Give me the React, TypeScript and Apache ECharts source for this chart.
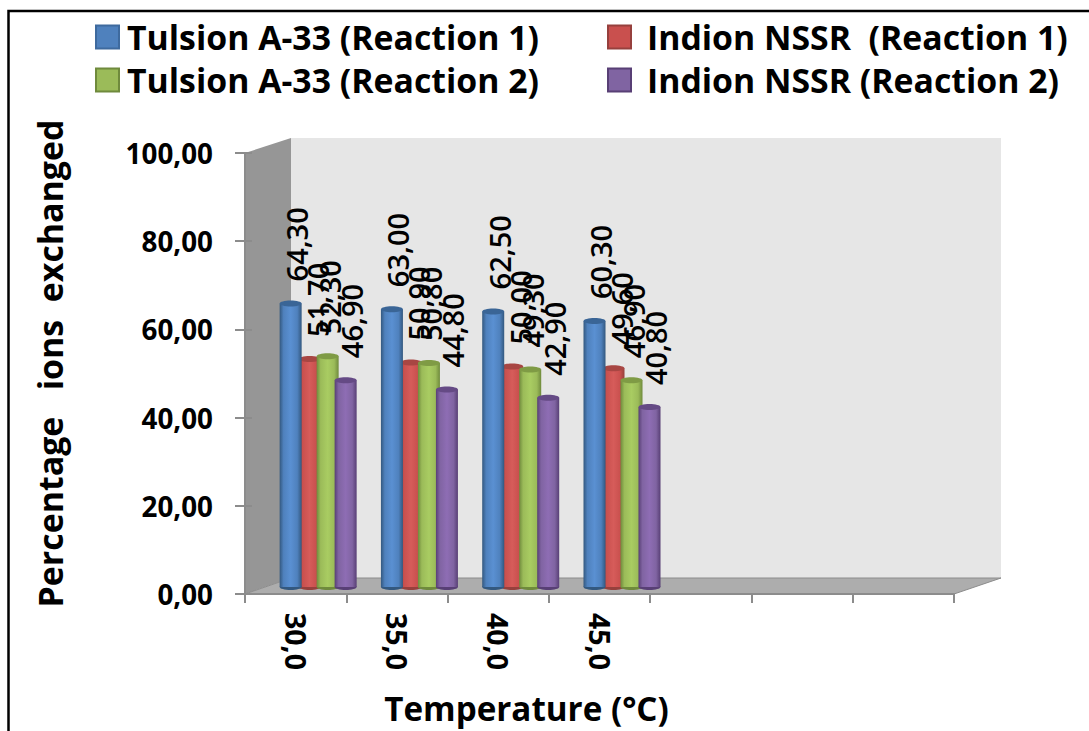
import React, { useEffect, useRef } from "react";
import * as echarts from "echarts";

const categories = ["30,0", "35,0", "40,0", "45,0", " ", "  ", "   "];
const tulsion1 = [64.3, 63.0, 62.5, 60.3];
const indion1 = [51.7, 50.9, 50.0, 49.6];
const tulsion2 = [52.3, 50.8, 49.3, 46.9];
const indion2 = [46.9, 44.8, 42.9, 40.8];
const yTicks = { min: 0, max: 100, interval: 20 };

const FONT = "Open Sans";
const DY = -7; // the bars stand mid-way in the 3D floor
const BAR_W = 22;

const fmt = (v: number) => v.toFixed(2).replace(".", ",");

function cylinder(
  values: number[],
  name: string,
  c: { base: string; light: string; dark: string; top: string },
  dx: number,
  labelDx: number
) {
  return {
    type: "custom",
    name,
    coordinateSystem: "cartesian2d",
    xAxisIndex: 0,
    yAxisIndex: 0,
    itemStyle: { color: c.base },
    z: 3,
    data: values.map((v, i) => [i, v]),
    encode: { x: 0, y: 1 },
    renderItem: (_p: any, api: any) => {
      const [cx, ty] = api.coord([api.value(0), api.value(1)]);
      const [, by] = api.coord([api.value(0), 0]);
      const x = cx + dx - BAR_W / 2;
      const top = ty + DY;
      const bottom = by + DY;
      const ry = 3;
      const grad = new echarts.graphic.LinearGradient(0, 0, 1, 0, [
        { offset: 0, color: c.dark },
        { offset: 0.18, color: c.base },
        { offset: 0.5, color: c.light },
        { offset: 0.8, color: c.base },
        { offset: 1, color: c.dark },
      ]);
      return {
        type: "group",
        children: [
          { type: "ellipse", shape: { cx: x + BAR_W / 2, cy: bottom, rx: BAR_W / 2, ry }, style: { fill: c.dark } },
          { type: "rect", shape: { x, y: top, width: BAR_W, height: bottom - top }, style: { fill: grad } },
          { type: "ellipse", shape: { cx: x + BAR_W / 2, cy: top, rx: BAR_W / 2, ry }, style: { fill: c.top } },
          {
            type: "text",
            x: cx + dx + labelDx,
            y: top - 22,
            rotation: Math.PI / 2,
            z2: 50,
            style: {
              text: fmt(api.value(1)),
              fill: "#000",
              fontFamily: FONT,
              fontSize: 29,
              fontWeight: 600,
              align: "left",
              verticalAlign: "middle",
            },
          },
        ],
      };
    },
  };
}

const BLUE = { base: "#4F81BD", light: "#5A90D2", dark: "#33587F", top: "#3A6596" };
const RED = { base: "#C9504E", light: "#D65C5A", dark: "#96403D", top: "#A84643" };
const GREEN = { base: "#9BBB59", light: "#A9CC62", dark: "#6F8A3C", top: "#7F9B45" };
const PURPLE = { base: "#8064A2", light: "#8E6DB4", dark: "#583F75", top: "#654A85" };

const legendText = (pad: number) => ({
  color: "#000",
  fontFamily: FONT,
  fontWeight: "bold" as const,
  fontSize: 33.8,
  padding: [0, 0, 0, pad],
});

const legendItem = (name: string, border: string) => ({
  name,
  itemStyle: { borderColor: border, borderWidth: 2 },
});

const NAME_T1 = "Tulsion A-33 (Reaction 1)";
const NAME_I1 = "Indion NSSR  (Reaction 1)";
const NAME_T2 = "Tulsion A-33 (Reaction 2)";
const NAME_I2 = "Indion NSSR (Reaction 2)";

const option: any = {
  animation: false,
  backgroundColor: "#fff",
  textStyle: { fontFamily: FONT },
  grid: { left: 245, top: 153, width: 709, height: 441, outerBoundsMode: "none", containLabel: false },
  legend: [
    {
      left: 95,
      top: 20,
      orient: "vertical",
      padding: 0,
      icon: "rect",
      itemWidth: 23,
      itemHeight: 23,
      itemGap: 9,
      selectedMode: false,
      textStyle: legendText(3),
      data: [legendItem(NAME_T1, "#3E6A9E"), legendItem(NAME_T2, "#6F8A3C")],
    },
    {
      left: 607,
      top: 20,
      orient: "vertical",
      padding: 0,
      icon: "rect",
      itemWidth: 23,
      itemHeight: 23,
      itemGap: 9,
      selectedMode: false,
      textStyle: legendText(11),
      data: [legendItem(NAME_I1, "#96403D"), legendItem(NAME_I2, "#583F75")],
    },
  ],
  xAxis: {
    type: "category",
    data: categories,
    boundaryGap: true,
    name: "Temperature (°C)",
    nameLocation: "middle",
    nameGap: 97,
    nameTextStyle: { color: "#000", fontFamily: FONT, fontWeight: "bold", fontSize: 33.2, lineHeight: 34, padding: [0, 146, 0, 0] },
    axisLine: { show: true, lineStyle: { color: "#8C8C8C", width: 2 } },
    axisTick: { show: true, length: 9, alignWithLabel: false, lineStyle: { color: "#8C8C8C", width: 2 } },
    axisLabel: {
      rotate: -90,
      interval: 0,
      margin: 19,
      color: "#000",
      fontFamily: FONT,
      fontWeight: "bold",
      fontSize: 28.5,
    },
    splitLine: { show: false },
  },
  yAxis: [
    {
      type: "value",
      min: yTicks.min,
      max: yTicks.max,
      interval: yTicks.interval,
      name: "Percentage   ions  exchanged",
      nameLocation: "middle",
      nameGap: 178,
      nameRotate: 90,
      nameTextStyle: { color: "#000", fontFamily: FONT, fontWeight: "bold", fontSize: 33.9, padding: [0, 0, 0, 20] },
      axisLine: { show: true, lineStyle: { color: "#8C8C8C", width: 2 } },
      axisTick: { show: true, length: 10, lineStyle: { color: "#8C8C8C", width: 2 } },
      axisLabel: {
        margin: 32,
        color: "#000",
        fontFamily: FONT,
        fontWeight: "bold",
        fontSize: 27.8,
        formatter: (v: number) => fmt(v),
      },
      splitLine: { show: false },
    },
    {
      type: "value",
      position: "left",
      min: yTicks.min,
      max: yTicks.max,
      interval: yTicks.interval,
      axisLine: { show: false },
      axisTick: { show: true, inside: true, length: 7, lineStyle: { color: "#8C8C8C", width: 2 } },
      axisLabel: { show: false },
      splitLine: { show: false },
    },
  ],
  graphic: [
    { type: "polygon", silent: true, z: -10, shape: { points: [[291, 138], [1001, 138], [1001, 578], [291, 578]] }, style: { fill: "#E6E6E6" } },
    { type: "polygon", silent: true, z: -9, shape: { points: [[245, 153], [291, 138], [291, 578], [245, 594]] }, style: { fill: "#969696" } },
    { type: "polygon", silent: true, z: -9, shape: { points: [[245, 594], [291, 578], [1001, 578], [954, 594]] }, style: { fill: "#ADADAD", stroke: "#8C8C8C", lineWidth: 1 } },
    { type: "polyline", silent: true, z: 10, shape: { points: [[8.5, 731], [8.5, 11], [1089, 11]] }, style: { fill: "none", stroke: "#000", lineWidth: 2.5 } },
  ],
  series: [
    cylinder(indion1, NAME_I1, RED, 14, 8),
    cylinder(tulsion1, NAME_T1, BLUE, -5, 6),
    cylinder(tulsion2, NAME_T2, GREEN, 32, 2),
    cylinder(indion2, NAME_I2, PURPLE, 50, 6),
  ],
};

export default function App() {
  const ref = useRef<HTMLDivElement>(null);
  useEffect(() => {
    document.body.style.margin = "0";
    const chart = echarts.init(ref.current as HTMLDivElement, undefined, { renderer: "svg" });
    chart.setOption(option);
    return () => chart.dispose();
  }, []);
  return <div ref={ref} style={{ width: 1089, height: 731 }} />;
}
